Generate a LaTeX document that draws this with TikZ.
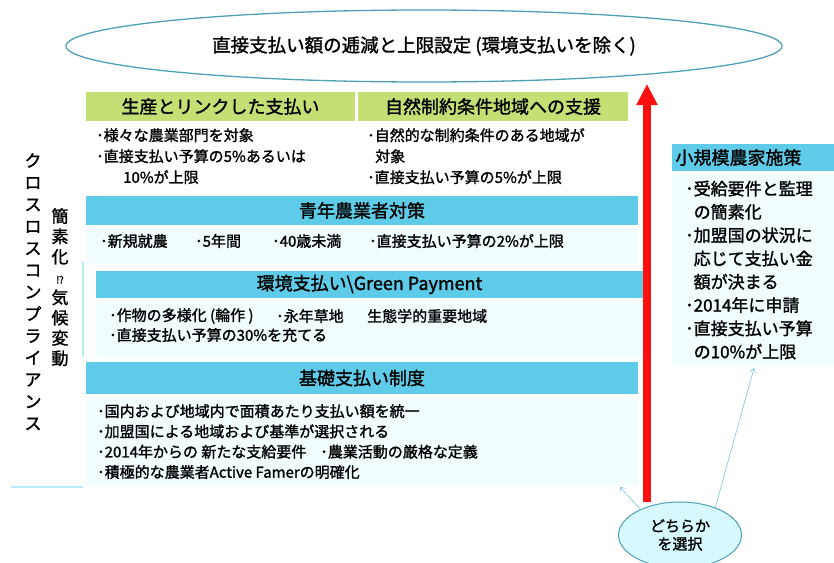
\documentclass[tikz,border=0pt]{standalone}
\usepackage{fontspec}
\setmainfont{Noto Sans CJK JP}[FakeBold=1.4]
\usetikzlibrary{shapes.geometric,arrows.meta}
\definecolor{hdrgreen}{HTML}{C4DF74}
\definecolor{hdrblue}{HTML}{5ECBE8}
\definecolor{bodycyan}{HTML}{F0FCFE}
\definecolor{rimteal}{HTML}{4E9FB8}
\definecolor{linecyan}{HTML}{B5EDF8}
\definecolor{pickfill}{HTML}{D6F9FD}
\definecolor{barbteal}{HTML}{7CC3D6}
\definecolor{arrowred}{HTML}{FF1010}

\begin{document}
\begin{tikzpicture}[x=1pt,y=-1pt,
  greenhead/.style={fill=hdrgreen,inner sep=0pt,font=\fontsize{18}{18}\selectfont},
  bluehead/.style={fill=hdrblue,inner sep=0pt,font=\fontsize{18}{18}\selectfont},
  bodybox/.style={fill=bodycyan,inner sep=0pt},
  bodytext/.style={anchor=west,inner sep=0pt,font=\fontsize{15}{15}\selectfont},
  bodylines/.style={anchor=north west,align=left,inner sep=0pt},
  thinbarb/.style={draw=barbteal,line width=0.6pt,-{Straight Barb[length=4pt,width=6pt]}}]
  \useasboundingbox (0,0) rectangle (834,562);

  % top ellipse
  \node[ellipse,draw=rimteal,line width=1.3pt,minimum width=716pt,minimum height=72pt,inner sep=0pt,
    font=\fontsize{18.5}{18.5}\selectfont] (cap) at (424,46) {直接支払い額の逓減と上限設定 (環境支払いを除く)};

  % green headers
  \node[greenhead,minimum width=269pt,minimum height=29pt] (link) at (220.5,106.5) {生産とリンクした支払い};
  \node[greenhead,minimum width=270pt,minimum height=29pt] (nature) at (493,106.5) {自然制約条件地域への支援};
  \node[bodylines,font=\fontsize{15}{21}\selectfont] (linktext) at (96,128) {･様々な農業部門を対象\\･直接支払い予算の5\%あるいは\\\hspace*{27pt}10\%が上限};
  \node[bodylines,font=\fontsize{15}{21}\selectfont] (naturetext) at (367,128) {･自然的な制約条件のある地域が\\\hspace*{8pt}対象\\･直接支払い予算の5\%が上限};

  % young farmers
  \node[bluehead,minimum width=552pt,minimum height=29pt] (young) at (362,210.5) {青年農業者対策};
  \node[bodybox,minimum width=552pt,minimum height=36pt] (youngbody) at (362,246) {};
  \node[bodytext] (y1) at (100,241) {･新規就農};
  \node[bodytext] (y2) at (195,241) {･5年間};
  \node[bodytext] (y3) at (272,241) {･40歳未満};
  \node[bodytext] (y4) at (369,241) {･直接支払い予算の2\%が上限};

  % green payment
  \node[bluehead,minimum width=547pt,minimum height=27pt] (green) at (369.5,284.5) {環境支払い\textbackslash{}Green Payment};
  \node[bodybox,minimum width=547pt,minimum height=55pt] (greenbody) at (369.5,329.5) {};
  \node[bodytext] (g1) at (109,316) {･作物の多様化 (輪作 )};
  \node[bodytext] (g2) at (276,316) {･永年草地};
  \node[bodytext] (g3) at (367,316) {生態学的重要地域};
  \node[bodytext] (g4) at (109,335) {･直接支払い予算の30\%を充てる};

  % basic payment
  \node[bluehead,minimum width=552pt,minimum height=32pt] (basic) at (362,378) {基礎支払い制度};
  \node[bodybox,minimum width=552pt,minimum height=86pt] (basicbody) at (362,442) {};
  \node[bodylines,font=\fontsize{15}{20.3}\selectfont] (basictext) at (97,404) {･国内および地域内で面積あたり支払い額を統一\\･加盟国による地域および基準が選択される\\･2014年からの 新たな支給要件\hspace{14pt}･農業活動の厳格な定義\\･積極的な農業者Active Famerの明確化};

  % left side
  \node[align=center,anchor=north,inner sep=0pt,font=\fontsize{17}{21.9}\selectfont] (cross) at (33,153)
    {ク\\ロ\\ス\\ロ\\ス\\コ\\ン\\プ\\ラ\\イ\\ア\\ン\\ス};
  \node[align=center,anchor=north,inner sep=0pt,font=\fontsize{17}{20.3}\selectfont] (simple) at (60,208)
    {簡\\素\\化\\{\fontsize{10}{10}\selectfont ⁉}\\気\\候\\変\\動};
  \draw[linecyan,line width=1.5pt] (83,262) -- (83,357);
  \draw[linecyan,line width=2pt] (11,487) -- (83,487);

  % small farmers
  \node[bluehead,minimum width=162pt,minimum height=27pt,text width=155pt,align=left] (small) at (753,157.5) {小規模農家施策};
  \node[bodybox,minimum width=162pt,minimum height=190pt] (smallbody) at (753,270) {};
  \node[bodylines,font=\fontsize{17}{23.3}\selectfont] (smalltext) at (685,180.5)
    {･受給要件と監理\\\phantom{･}の簡素化\\･加盟国の状況に\\\phantom{･}応じて支払い金\\\phantom{･}額が決まる\\･2014年に申請\\･直接支払い予算\\\phantom{･}の10\%が上限};

  % choice
  \node[ellipse,draw=rimteal,fill=pickfill,line width=1pt,minimum width=123pt,minimum height=66pt,inner sep=0pt,
    align=center,font=\fontsize{15}{18}\selectfont] (pick) at (680,535) {どちらか\\を選択};
  \coordinate (redtip) at (647,84);
  \draw[arrowred,line width=8pt,-{Triangle[length=21pt,width=20pt]}] (pick.north -| redtip) -- (redtip);
  \coordinate (basiccorner) at (620,487);
  \coordinate (smallfoot) at (754,368);
  \draw[thinbarb] (pick.147) -- (basiccorner);
  \draw[thinbarb] (pick.38) -- (smallfoot);
\end{tikzpicture}
\end{document}
